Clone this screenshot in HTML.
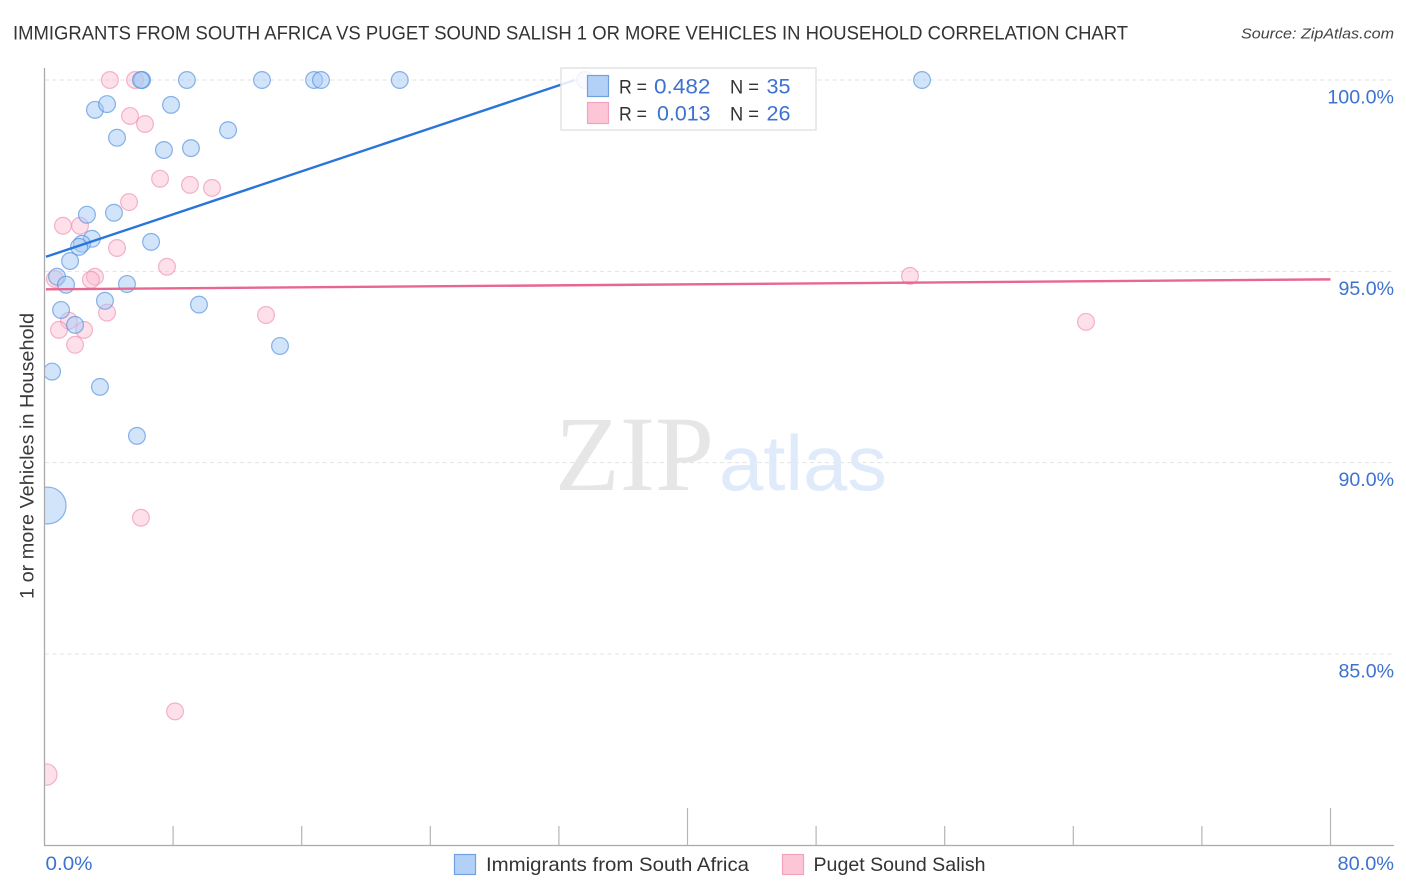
<!DOCTYPE html>
<html>
<head>
<meta charset="utf-8">
<title>Correlation Chart</title>
<style>
html,body{margin:0;padding:0;background:#fff;width:1406px;height:892px;overflow:hidden}
svg{display:block}
text{font-family:"Liberation Sans",sans-serif}
</style>
</head>
<body>
<svg id="chart" xmlns="http://www.w3.org/2000/svg" width="1406" height="892" viewBox="0 0 1406 892">
  <text x="13" y="39.5" font-size="19.5" fill="#333" textLength="1115" lengthAdjust="spacingAndGlyphs">IMMIGRANTS FROM SOUTH AFRICA VS PUGET SOUND SALISH 1 OR MORE VEHICLES IN HOUSEHOLD CORRELATION CHART</text>
  <text x="1241" y="38.5" font-size="15" font-style="italic" fill="#444" textLength="153" lengthAdjust="spacingAndGlyphs">Source: ZipAtlas.com</text>
  <g id="grid"></g>
  <g>
    <text x="555" y="490" style="font-family:'Liberation Serif',serif" font-size="107" fill="#e6e6e6" textLength="159" lengthAdjust="spacingAndGlyphs">ZIP</text>
    <text x="719" y="490" font-size="78" fill="#dfeafa" textLength="168" lengthAdjust="spacingAndGlyphs">atlas</text>
  </g>
  <g id="marks"></g>
  <rect x="0" y="60" width="44.5" height="790" fill="#fff"/>
  <g id="axes"></g>
  <g id="trends"></g>
  <text transform="translate(33.5,456) rotate(-90)" text-anchor="middle" font-size="19" fill="#3a3a3a" textLength="286" lengthAdjust="spacingAndGlyphs">1 or more Vehicles in Household</text>

  <g>
    <rect x="561" y="68" width="255" height="62" fill="#fff" fill-opacity="0.86" stroke="#e4e4e4" stroke-width="1.5"/>
    <rect x="587.5" y="75.5" width="21" height="21" fill="#b3d1f7" stroke="#6fa0e0" stroke-width="1.2"/>
    <rect x="587.5" y="102.5" width="21" height="21" fill="#fdc6d7" stroke="#f3a3bd" stroke-width="1.2"/>
    <g font-size="19.5" fill="#333">
      <text x="619" y="93.5" textLength="28" lengthAdjust="spacingAndGlyphs">R =</text>
      <text x="730" y="93.5" textLength="29" lengthAdjust="spacingAndGlyphs">N =</text>
      <text x="619" y="120.5" textLength="28" lengthAdjust="spacingAndGlyphs">R =</text>
      <text x="730" y="120.5" textLength="29" lengthAdjust="spacingAndGlyphs">N =</text>
    </g>
    <g font-size="21" fill="#3d72d0">
      <text x="654" y="93.5" textLength="56.5" lengthAdjust="spacingAndGlyphs">0.482</text>
      <text x="766.5" y="93.5" textLength="24" lengthAdjust="spacingAndGlyphs">35</text>
      <text x="657" y="120.5" textLength="53.5" lengthAdjust="spacingAndGlyphs">0.013</text>
      <text x="766.5" y="120.5" textLength="24" lengthAdjust="spacingAndGlyphs">26</text>
    </g>
  </g>

  <g>
    <rect x="454.5" y="854.5" width="21" height="20" fill="#b3d1f7" stroke="#6fa0e0" stroke-width="1.2"/>
    <text x="486" y="871" font-size="19.5" fill="#333" textLength="263" lengthAdjust="spacingAndGlyphs">Immigrants from South Africa</text>
    <rect x="782.5" y="854.5" width="21" height="20" fill="#fdc6d7" stroke="#f3a3bd" stroke-width="1.2"/>
    <text x="813.5" y="871" font-size="19.5" fill="#333" textLength="172" lengthAdjust="spacingAndGlyphs">Puget Sound Salish</text>
  </g>
</svg>
<script>
var yTicks = [100, 95, 90, 85];
var yTickLabels = ["100.0%", "95.0%", "90.0%", "85.0%"];
var xTicks = [0, 8, 16, 24, 32, 40, 48, 56, 64, 72, 80];
var xMajorTicks = [40, 80];
var xEndLabels = ["0.0%", "80.0%"];

var blueX = [6.07, 6.0, 8.86, 13.53, 16.77, 17.2, 22.1, 33.62, 54.59, 3.14, 3.89, 7.87, 11.42, 4.51, 7.43, 9.11, 2.64, 4.32, 2.95, 2.33, 2.15, 6.63, 1.59, 0.78, 1.34, 5.13, 3.76, 9.61, 1.03, 1.90, 14.65, 0.47, 3.45, 5.75, 0.19];
var blueY = [100, 100, 100, 100, 100, 100, 100, 100, 100, 99.22, 99.37, 99.35, 98.69, 98.49, 98.17, 98.22, 96.48, 96.53, 95.85, 95.72, 95.64, 95.77, 95.27, 94.86, 94.65, 94.67, 94.23, 94.13, 93.99, 93.60, 93.05, 92.38, 91.98, 90.70, 88.88];
var blueSize = [1, 1, 1, 1, 1, 1, 1, 1, 1, 1, 1, 1, 1, 1, 1, 1, 1, 1, 1, 1, 1, 1, 1, 1, 1, 1, 1, 1, 1, 1, 1, 1, 1, 1, 2.2];

var pinkX = [4.07, 5.63, 5.32, 6.25, 7.19, 9.05, 10.42, 5.26, 1.15, 2.21, 4.51, 7.62, 0.65, 3.14, 2.89, 3.89, 1.52, 0.90, 2.46, 1.90, 13.78, 53.84, 64.79, 6.0, 8.12, 0.11];
var pinkY = [100, 100, 99.06, 98.85, 97.42, 97.26, 97.18, 96.81, 96.19, 96.19, 95.61, 95.12, 94.80, 94.86, 94.78, 93.92, 93.71, 93.47, 93.47, 93.08, 93.86, 94.88, 93.68, 88.56, 83.50, 81.85];
var pinkSize = [1, 1, 1, 1, 1, 1, 1, 1, 1, 1, 1, 1, 1, 1, 1, 1, 1, 1, 1, 1, 1, 1, 1, 1, 1, 1.28];

var blueTrendX = [0.09, 33];
var blueTrendY = [95.38, 100];
var pinkTrendX = [0.09, 80];
var pinkTrendY = [94.53, 94.79];

var NS = 'http://www.w3.org/2000/svg';
function xScale(v) { return 44.5 + v * (1330.5 - 44.5) / 80; }
function yScale(v) { return 80 + (100 - v) * (654 - 80) / 15; }
function make(tag, attrs, parent, txt) {
  var el = document.createElementNS(NS, tag);
  for (var k in attrs) el.setAttribute(k, attrs[k]);
  if (txt !== undefined) el.textContent = txt;
  parent.appendChild(el);
  return el;
}
var grid = document.getElementById('grid');
var axes = document.getElementById('axes');
var marks = document.getElementById('marks');
var trends = document.getElementById('trends');

yTicks.forEach(function (t, i) {
  var g = make('line', {x1: 45, x2: 1394, y1: yScale(t), y2: yScale(t), stroke: '#e2e2e2', 'stroke-width': 1, 'stroke-dasharray': '4 3.5'}, grid);
  
  
  var lab = make('text', {x: 1394, y: yScale(t) + 23.5, 'text-anchor': 'end', 'font-size': 19, fill: '#3d72d0', textLength: yTickLabels[i].length * 11.1, lengthAdjust: 'spacingAndGlyphs'}, axes, yTickLabels[i]);
  
  
});

var yAxis = make('line', {x1: 44.5, x2: 44.5, y1: 68, y2: 846, stroke: '#aaa', 'stroke-width': 1.3}, axes);


var xAxis = make('line', {x1: 44, x2: 1394, y1: 845.5, y2: 845.5, stroke: '#aaa', 'stroke-width': 1.3}, axes);



xTicks.forEach(function (t) {
  if (t === 0) return;
  var top = xMajorTicks.indexOf(t) >= 0 ? 808 : 826;
  var tk = make('line', {x1: xScale(t), x2: xScale(t), y1: top, y2: 845, stroke: '#b5b5b5', 'stroke-width': 1.2}, axes);
  
  
});
var xl0 = make('text', {x: xScale(xTicks[0]) + 1, y: 870, 'font-size': 19, fill: '#3d72d0', textLength: 47, lengthAdjust: 'spacingAndGlyphs'}, axes, xEndLabels[0]);


var xl1 = make('text', {x: 1394, y: 870, 'text-anchor': 'end', 'font-size': 19, fill: '#3d72d0', textLength: 56.5, lengthAdjust: 'spacingAndGlyphs'}, axes, xEndLabels[1]);



var BASE_R = 8.4;
pinkX.forEach(function (v, i) {
  var c = make('circle', {cx: xScale(v), cy: yScale(pinkY[i]), r: BASE_R * pinkSize[i], fill: '#fbb6cc', 'fill-opacity': 0.42, stroke: '#ee8fae', 'stroke-opacity': 0.65, 'stroke-width': 1.2}, marks);
  
  
});
blueX.forEach(function (v, i) {
  var c = make('circle', {cx: xScale(v), cy: yScale(blueY[i]), r: BASE_R * blueSize[i], fill: '#a6c9f5', 'fill-opacity': 0.5, stroke: '#4f8ddc', 'stroke-opacity': 0.65, 'stroke-width': 1.2}, marks);
  
  
});

var t1 = make('line', {x1: xScale(blueTrendX[0]), y1: yScale(blueTrendY[0]), x2: xScale(blueTrendX[1]), y2: yScale(blueTrendY[1]), stroke: '#2a75d9', 'stroke-width': 2.4}, trends);


var t2 = make('line', {x1: xScale(pinkTrendX[0]), y1: yScale(pinkTrendY[0]), x2: xScale(pinkTrendX[1]), y2: yScale(pinkTrendY[1]), stroke: '#e8678f', 'stroke-width': 2.4}, trends);


</script>
</body>
</html>
